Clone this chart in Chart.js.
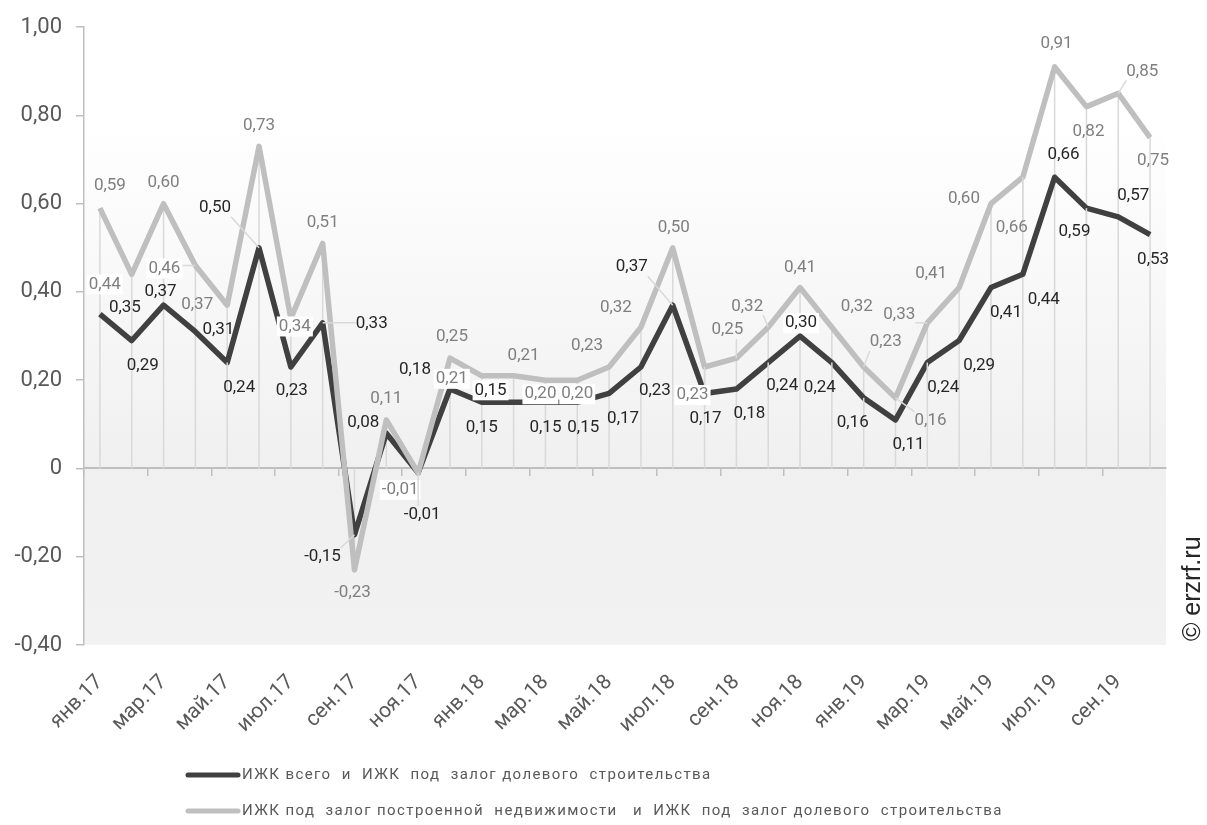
<!DOCTYPE html>
<html lang="ru">
<head>
<meta charset="utf-8">
<title>Спред ставок ИЖК</title>
<script src="https://cdn.jsdelivr.net/npm/chart.js@4/dist/chart.umd.min.js"></script>
<style>
  html, body { margin: 0; padding: 0; background: #fff; }
  #wrap { width: 1207px; height: 825px; }
</style>
</head>
<body>
<div id="wrap"><canvas id="spreadChart" width="1207" height="825"></canvas></div>
<script>
// months, янв.17 – окт.19
const months = [
  "янв.17", "фев.17", "мар.17", "апр.17", "май.17", "июн.17", "июл.17", "авг.17", "сен.17", "окт.17", "ноя.17", "дек.17",
  "янв.18", "фев.18", "мар.18", "апр.18", "май.18", "июн.18", "июл.18", "авг.18", "сен.18", "окт.18", "ноя.18", "дек.18",
  "янв.19", "фев.19", "мар.19", "апр.19", "май.19", "июн.19", "июл.19", "авг.19", "сен.19", "окт.19"
];

// ИЖК всего минус ИЖК под залог ДДУ
const totalSpread = [
  0.35, 0.29, 0.37, 0.31, 0.24, 0.50, 0.23, 0.33, -0.15, 0.08, -0.01, 0.18,
  0.15, 0.15, 0.15, 0.15, 0.17, 0.23, 0.37, 0.17, 0.18, 0.24, 0.30, 0.24,
  0.16, 0.11, 0.24, 0.29, 0.41, 0.44, 0.66, 0.59, 0.57, 0.53
];

// ИЖК под залог готового жилья минус ИЖК под залог ДДУ
const builtSpread = [
  0.59, 0.44, 0.60, 0.46, 0.37, 0.73, 0.34, 0.51, -0.23, 0.11, -0.01, 0.25,
  0.21, 0.21, 0.20, 0.20, 0.23, 0.32, 0.50, 0.23, 0.25, 0.32, 0.41, 0.32,
  0.23, 0.16, 0.33, 0.41, 0.60, 0.66, 0.91, 0.82, 0.85, 0.75
];

const seriesNames = [
  "ИЖК всего  и  ИЖК  под  залог долевого  строительства",
  "ИЖК под  залог построенной  недвижимости   и  ИЖК  под  залог долевого  строительства"
];

// label placement relative to the point (px), leader lines and white boxes
const totalLabelShift = [
  [25, -6], [11, 25], [-3, -13], [23, -2], [12, 25], [-44, -40], [1, 24], [49, 1], [-32, 22], [-23, -10], [4, 42], [-35, -19],
  [0, 25], [-23, -12], [0, 25], [6, 25], [14, 25], [14, 24], [-41, -38], [1, 25], [13, 25], [14, 23], [1, -13], [-12, 25],
  [-11, 25], [13, 25], [16, 25], [20, 25], [15, 25], [21, 25], [9, -22], [-12, 24], [15, -21], [3, 25]
];
const builtLabelShift = [
  [10, -22], [-27, 10], [0, -21], [-31, 3], [-30, 0], [0, -21], [4, 8], [0, -21], [-2, 23], [0, -21], [-18, 17], [2, -21],
  [-30, 3], [10, -20], [-5, 14], [0, 14], [-22, -21], [-25, -20], [1, -20], [-12, 28], [-9, -28], [-21, -21], [0, -20], [25, -21],
  [22, -25], [35, 23], [-28, -8], [-28, -14], [-27, -5], [-11, 51], [2, -23], [2, 25], [24, -22], [3, 23]
];
const totalLeaders = [4, 5, 7, 8, 10, 18, 21, 23, 24, 26, 31];
const builtLeaders = [3, 19, 20, 21, 24, 25, 26, 29, 32];
const totalBoxed = [13, 22];
const builtBoxed = [1, 3, 6, 10, 12, 14, 15, 19];

const DARK = "#404040";
const LIGHT = "#bfbfbf";
const AXIS = "#bfbfbf";

const fmt = v => Math.abs(v) < 1e-9 ? "0" : v.toFixed(2).replace(".", ",");

// plot background: white at the top fading to light grey
const backdrop = {
  id: "backdrop",
  beforeDraw(chart) {
    const { ctx, chartArea: a, scales } = chart;
    const zero = (scales.y.getPixelForValue(0) - a.top) / (a.bottom - a.top);
    const g = ctx.createLinearGradient(0, a.top, 0, a.bottom);
    g.addColorStop(0, "#ffffff");
    g.addColorStop(0.15, "#ffffff");
    g.addColorStop(zero, "#f0f0f0");
    g.addColorStop(1, "#f2f2f2");
    ctx.save();
    ctx.fillStyle = g;
    ctx.fillRect(a.left, a.top, a.right - a.left, a.bottom - a.top);
    ctx.restore();
  }
};

// vertical drop lines from each month down to zero
const dropLines = {
  id: "dropLines",
  beforeDatasetsDraw(chart) {
    const { ctx, scales } = chart;
    const y0 = scales.y.getPixelForValue(0);
    ctx.save();
    ctx.strokeStyle = "#d9d9d9";
    ctx.lineWidth = 1.5;
    builtSpread.forEach((v, i) => {
      const x = scales.x.getPixelForValue(i);
      ctx.beginPath();
      ctx.moveTo(x, scales.y.getPixelForValue(v));
      ctx.lineTo(x, y0);
      ctx.stroke();
    });
    ctx.restore();
  }
};

function drawSeriesLabels(ctx, meta, values, shifts, leaders, boxed, color) {
  ctx.font = "17px Roboto";
  ctx.textAlign = "center";
  ctx.textBaseline = "middle";
  meta.data.forEach((pt, i) => {
    const text = fmt(values[i]);
    const lx = pt.x + shifts[i][0];
    const ly = pt.y + shifts[i][1];
    const w = ctx.measureText(text).width;
    const h = 18;
    if (leaders.includes(i)) {
      const ex = Math.max(lx - w / 2, Math.min(pt.x, lx + w / 2));
      const ey = Math.max(ly - h / 2, Math.min(pt.y, ly + h / 2));
      ctx.strokeStyle = "#d9d9d9";
      ctx.lineWidth = 1.5;
      ctx.beginPath();
      ctx.moveTo(pt.x, pt.y);
      ctx.lineTo(ex, ey);
      ctx.stroke();
    }
    if (boxed.includes(i)) {
      ctx.fillStyle = "#ffffff";
      ctx.fillRect(lx - w / 2 - 2, ly - h / 2 - 1, w + 4, h + 2);
    }
    ctx.fillStyle = color;
    ctx.fillText(text, lx, ly);
  });
}

const valueLabels = {
  id: "valueLabels",
  afterDatasetsDraw(chart) {
    const ctx = chart.ctx;
    ctx.save();
    drawSeriesLabels(ctx, chart.getDatasetMeta(1), builtSpread, builtLabelShift, builtLeaders, builtBoxed, "#7f7f7f");
    drawSeriesLabels(ctx, chart.getDatasetMeta(0), totalSpread, totalLabelShift, totalLeaders, totalBoxed, "#262626");
    ctx.restore();
  }
};

// two-row legend under the axis and the source mark on the right
const legendAndSource = {
  id: "legendAndSource",
  afterDraw(chart) {
    const ctx = chart.ctx;
    ctx.save();
    chart.data.datasets.forEach((ds, i) => {
      const y = 775 + i * 36;
      ctx.strokeStyle = ds.borderColor;
      ctx.lineWidth = 5;
      ctx.lineCap = "round";
      ctx.beginPath();
      ctx.moveTo(188, y);
      ctx.lineTo(238, y);
      ctx.stroke();
      ctx.fillStyle = "#595959";
      ctx.font = "15px Roboto";
      ctx.letterSpacing = "1.4px";
      ctx.textAlign = "left";
      ctx.textBaseline = "middle";
      ctx.fillText(ds.label, 242, y);
      ctx.letterSpacing = "0px";
    });
    ctx.translate(1193, 641);
    ctx.rotate(-Math.PI / 2);
    ctx.font = "25px 'Liberation Sans'";
    ctx.fillStyle = "#262626";
    ctx.textAlign = "left";
    ctx.textBaseline = "middle";
    ctx.fillText("© erzrf.ru", 0, 0);
    ctx.restore();
  }
};

const ctx = document.getElementById("spreadChart").getContext("2d");
new Chart(ctx, {
  type: "line",
  data: {
    labels: months,
    datasets: [
      {
        label: seriesNames[0],
        data: totalSpread,
        borderColor: DARK,
        borderWidth: 5.5,
        borderJoinStyle: "round",
        pointRadius: 0,
        tension: 0,
        order: 1
      },
      {
        label: seriesNames[1],
        data: builtSpread,
        borderColor: LIGHT,
        borderWidth: 5.5,
        borderJoinStyle: "round",
        pointRadius: 0,
        tension: 0,
        order: 0
      }
    ]
  },
  options: {
    responsive: false,
    animation: false,
    devicePixelRatio: 1,
    layout: { padding: { top: 22, right: 41, bottom: 70, left: 0 } },
    plugins: {
      legend: { display: false },
      tooltip: { enabled: false }
    },
    scales: {
      y: {
        min: -0.4,
        max: 1.0,
        ticks: {
          stepSize: 0.2,
          color: "#595959",
          font: { family: "Roboto", size: 22 },
          padding: 14,
          callback: v => fmt(v)
        },
        grid: { drawOnChartArea: false, tickLength: 8, color: AXIS, lineWidth: 1.5 },
        border: { color: AXIS, width: 1.5 },
        afterFit: s => { s.width = 84; }
      },
      x: {
        position: { y: 0 },
        offset: true,
        ticks: { display: false, autoSkip: false },
        grid: {
          offset: true,
          drawOnChartArea: false,
          tickLength: 7,
          lineWidth: 1.5,
          color: c => c.index % 2 === 0 ? AXIS : "rgba(0,0,0,0)"
        },
        border: { color: AXIS, width: 2 }
      },
      xLabels: {
        type: "category",
        labels: months,
        position: "bottom",
        offset: true,
        grid: { display: false, drawTicks: false },
        border: { display: false },
        ticks: {
          autoSkip: false,
          minRotation: 45,
          maxRotation: 45,
          color: "#595959",
          font: { family: "Roboto", size: 21 },
          padding: 25,
          callback: (v, i) => i % 2 === 0 ? months[i] : ""
        },
        afterFit: s => { s.height = 110; }
      }
    }
  },
  plugins: [backdrop, dropLines, valueLabels, legendAndSource]
});
</script>
</body>
</html>
